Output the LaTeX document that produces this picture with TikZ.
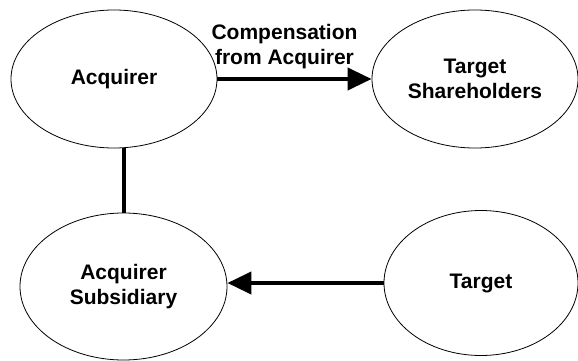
\documentclass[tikz,border=0pt]{standalone}
\usepackage{fontspec}
\setmainfont{Liberation Sans}
\usetikzlibrary{shapes.geometric,arrows.meta}
\begin{document}
\begin{tikzpicture}[x=1pt,y=-1pt,
    party/.style={ellipse,draw,line width=0.8pt,inner sep=0pt,align=center,font=\bfseries\fontsize{21}{25}\selectfont},
    flow/.style={line width=4pt,-{Triangle[length=24pt,width=22pt]}},
    link/.style={line width=4pt}]
    \useasboundingbox (0,0) rectangle (578,361);
    \foreach \n/\x/\y/\w/\h/\t in {acq/114/79/206/138/Acquirer,ts/475/79/206/138/{Target\\Shareholders},%
    sub/123.5/286.5/207/147/{Acquirer\\Subsidiary},tgt/481/283/194/145/Target}
    {
    \node[party, minimum width=\w pt, minimum height=\h pt] (\n) at (\x,\y) {\t};
    }
    \draw[flow] (acq) -- node[above=5pt, xshift=-10pt, align=center, font=\bfseries\fontsize{21}{25}\selectfont] (comp) {Compensation\\from Acquirer} (ts);
    \draw[link] (acq.south -| sub.north) -- (sub.north);
    \draw[flow] (tgt.west) -- (tgt.west -| sub.east);
\end{tikzpicture}
\end{document}
